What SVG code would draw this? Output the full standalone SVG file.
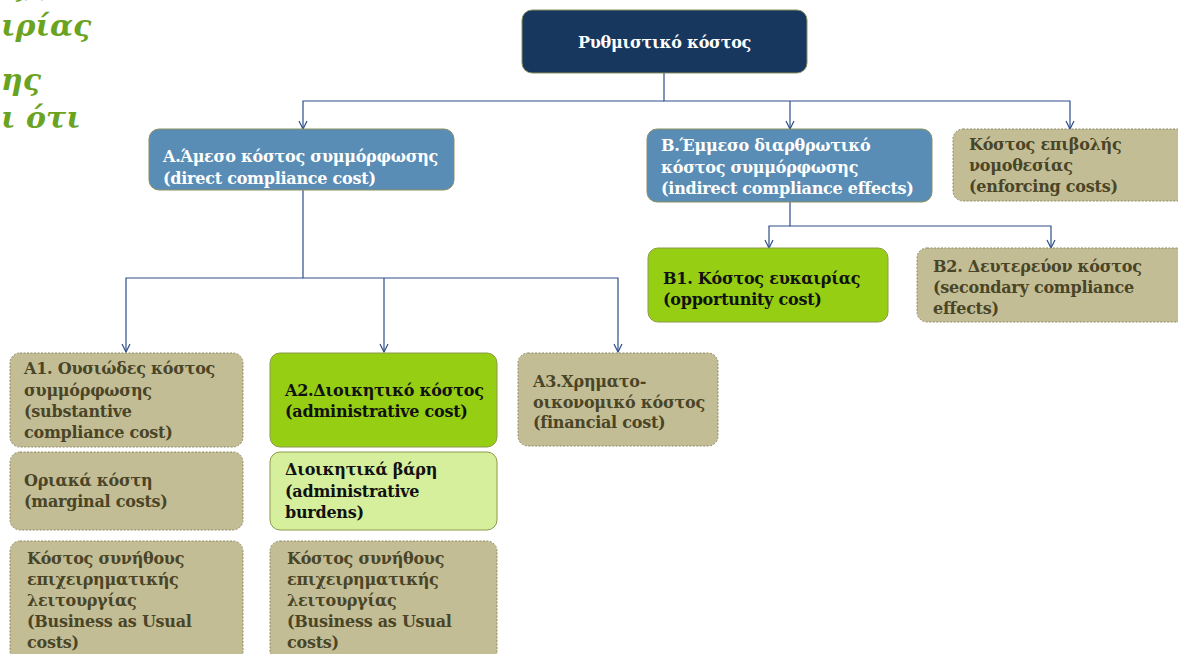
<svg xmlns="http://www.w3.org/2000/svg" width="1178" height="654" viewBox="0 0 1178 654">
<defs>
<marker id="arr" markerWidth="10" markerHeight="10" refX="9" refY="5" orient="auto" markerUnits="userSpaceOnUse" viewBox="0 0 10 10">
<path d="M1,1 L9,5 L1,9" fill="none" stroke="#2e4f8a" stroke-width="1.2"/>
</marker>
<style>
text{font-family:"DejaVu Serif","Liberation Serif",serif;font-weight:bold;font-size:16px;letter-spacing:-0.25px}
.navy{fill:#17375e;stroke:#8c8f5f;stroke-width:1}
.blue{fill:#5a8db5;stroke:#8c8f5f;stroke-width:1}
.tan{fill:#c3bd96;stroke:#8f8a63;stroke-width:1;stroke-dasharray:2 1.5}
.green{fill:#96ce13;stroke:#8c9a4a;stroke-width:1}
.lgreen{fill:#d5ef9c;stroke:#8c9a4a;stroke-width:1}
.w{fill:#ffffff}
.d{fill:#4a4526}
.k{fill:#111111}
.conn path{fill:none;stroke:#2e4f8a;stroke-width:1.2}
.bg{font-style:italic;font-size:30px;fill:#6aa31f;letter-spacing:0}
</style>
</defs>
<rect width="1178" height="654" fill="#ffffff"/>
<g id="bgtext">
<text class="bg" x="8" y="-4">ς),</text>
<text class="bg" x="1" y="36">ιρίας</text>
<text class="bg" x="1" y="90">ης</text>
<text class="bg" x="1" y="128">ι ότι</text>
</g>
<g class="conn" id="connectors">
<path d="M664,73 V101 H1070 V129" marker-end="url(#arr)"/>
<path d="M664,101 H303 V129" marker-end="url(#arr)"/>
<path d="M790,101 V129" marker-end="url(#arr)"/>
<path d="M303,190 V278 H618 V352" marker-end="url(#arr)"/>
<path d="M303,278 H126 V352" marker-end="url(#arr)"/>
<path d="M384,278 V352" marker-end="url(#arr)"/>
<path d="M790,202 V226 H1051 V248" marker-end="url(#arr)"/>
<path d="M790,226 H769 V248" marker-end="url(#arr)"/>
</g>
<g id="root">
<rect class="navy" x="522" y="10" width="285" height="63" rx="10"/>
<text class="w" x="664.5" y="48" text-anchor="middle">Ρυθμιστικό κόστος</text>
</g>
<g id="nodeA">
<rect class="blue" x="149" y="129" width="305" height="61" rx="10"/>
<text class="w" x="163" y="162">A.Άμεσο κόστος συμμόρφωσης</text>
<text class="w" x="163" y="184">(direct compliance cost)</text>
</g>
<g id="nodeB">
<rect class="blue" x="647" y="129" width="285" height="73" rx="10"/>
<text class="w" x="661" y="151">B.Έμμεσο διαρθρωτικό</text>
<text class="w" x="661" y="173">κόστος συμμόρφωσης</text>
<text class="w" x="661" y="194">(indirect compliance effects)</text>
</g>
<g id="nodeEnf">
<rect class="tan" x="953" y="129" width="235" height="72" rx="10"/>
<text class="d" x="969" y="150">Κόστος επιβολής</text>
<text class="d" x="969" y="171">νομοθεσίας</text>
<text class="d" x="969" y="192">(enforcing costs)</text>
</g>
<g id="nodeB1">
<rect class="green" x="648" y="248" width="240" height="74" rx="10"/>
<text class="k" x="663" y="284">B1. Κόστος ευκαιρίας</text>
<text class="k" x="663" y="305">(opportunity cost)</text>
</g>
<g id="nodeB2">
<rect class="tan" x="917" y="248" width="270" height="74" rx="10"/>
<text class="d" x="933" y="272">B2. Δευτερεύον κόστος</text>
<text class="d" x="933" y="293">(secondary compliance</text>
<text class="d" x="933" y="314">effects)</text>
</g>
<g id="nodeA1">
<rect class="tan" x="10" y="353" width="233" height="94" rx="10"/>
<text class="d" x="24" y="374">A1. Ουσιώδες κόστος</text>
<text class="d" x="24" y="396">συμμόρφωσης</text>
<text class="d" x="24" y="417">(substantive</text>
<text class="d" x="24" y="438">compliance cost)</text>
</g>
<g id="nodeMarginal">
<rect class="tan" x="10" y="452" width="233" height="78" rx="10"/>
<text class="d" x="24" y="486">Οριακά κόστη</text>
<text class="d" x="24" y="507">(marginal costs)</text>
</g>
<g id="nodeBAU1">
<rect class="tan" x="10" y="541" width="233" height="120" rx="10"/>
<text class="d" x="27" y="564">Κόστος συνήθους</text>
<text class="d" x="27" y="585">επιχειρηματικής</text>
<text class="d" x="27" y="606">λειτουργίας</text>
<text class="d" x="27" y="627">(Business as Usual</text>
<text class="d" x="27" y="648">costs)</text>
</g>
<g id="nodeA2">
<rect class="green" x="270" y="353" width="227" height="94" rx="10"/>
<text class="k" x="285" y="396">A2.Διοικητικό κόστος</text>
<text class="k" x="285" y="417">(administrative cost)</text>
</g>
<g id="nodeBurdens">
<rect class="lgreen" x="270" y="452" width="227" height="78" rx="10"/>
<text class="k" x="285" y="475">Διοικητικά βάρη</text>
<text class="k" x="285" y="497">(administrative</text>
<text class="k" x="285" y="518">burdens)</text>
</g>
<g id="nodeBAU2">
<rect class="tan" x="270" y="541" width="227" height="120" rx="10"/>
<text class="d" x="287" y="564">Κόστος συνήθους</text>
<text class="d" x="287" y="585">επιχειρηματικής</text>
<text class="d" x="287" y="606">λειτουργίας</text>
<text class="d" x="287" y="627">(Business as Usual</text>
<text class="d" x="287" y="648">costs)</text>
</g>
<g id="nodeA3">
<rect class="tan" x="518" y="353" width="200" height="93" rx="10"/>
<text class="d" x="533" y="387">A3.Χρηματο-</text>
<text class="d" x="533" y="408">οικονομικό κόστος</text>
<text class="d" x="533" y="428">(financial cost)</text>
</g>
</svg>
